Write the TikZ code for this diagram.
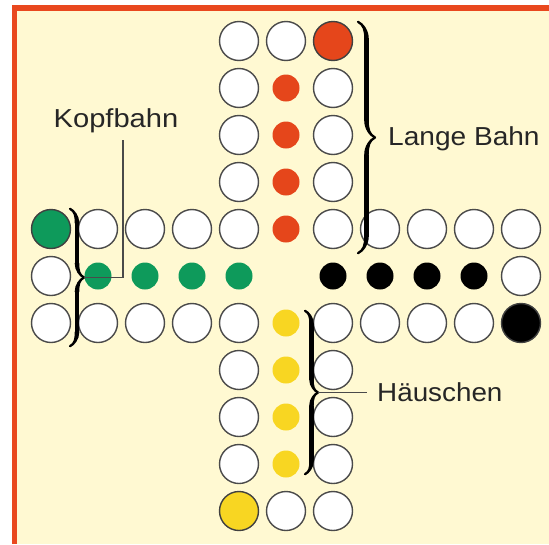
\documentclass[tikz,border=0pt]{standalone}
\usepackage{fontspec}
\setmainfont{Liberation Sans}
\usetikzlibrary{decorations.pathreplacing, calligraphy}

\definecolor{rahmen}{HTML}{E9481E}
\definecolor{papier}{HTML}{FFF9D2}
\definecolor{rot}{HTML}{E5461B}
\definecolor{gruen}{HTML}{0E9A5B}
\definecolor{gelb}{HTML}{F8D622}
\definecolor{rand}{HTML}{4A4A4A}

\tikzset{
  feld/.style={circle, draw=rand, line width=1.4pt, fill=white, minimum size=39pt, inner sep=0pt},
  start/.style={feld, draw=black!75, fill=#1},
  haus/.style={circle, fill=#1, minimum size=27pt, inner sep=0pt},
  klammer/.style={decorate, decoration={calligraphic brace, amplitude=#1}, line width=4.6pt},
  zeiger/.style={draw=rand, line width=1.1pt},
  beschr/.style={text=black!85, inner sep=0pt, font=\fontsize{26}{30}\selectfont},
}

\begin{document}
\begin{tikzpicture}[x=1pt, y=-1pt]
    \useasboundingbox (0,0) rectangle (549,544);
    % Papier mit Rahmen oben und links
    \fill[white] (0,0) rectangle (549,544);
    \fill[papier] (12,5) rectangle (549,544);
    \draw[rahmen, line width=5.5pt] (14.5,544) -- (14.5,7.8) -- (549,7.8);

    \begin{scope}[shift={(286,276)}, x=47pt, y=-47pt]
        % senkrechter Arm
        \foreach \k in {-5,...,-1,1,2,3,4} \node[feld] (l\k) at (-1,\k) {};
        \foreach \k in {-4,...,-1,1,2,...,5} \node[feld] (r\k) at (1,\k) {};
        % waagrechter Arm
        \foreach \k in {-4,-3,-2,2,3,4,5} \node[feld] (o\k) at (\k,-1) {};
        \foreach \k in {-5,-4,-3,-2,2,3,4} \node[feld] (u\k) at (\k,1) {};
        % Endfelder der Mittellinien
        \node[feld] (mo) at (0,-5) {};
        \node[feld] (mu) at (0,5) {};
        \node[feld] (ml) at (-5,0) {};
        \node[feld] (mr) at (5,0) {};
        % Startfelder
        \node[start=rot] (srot) at (1,-5) {};
        \node[start=gruen] (sgruen) at (-5,-1) {};
        \node[start=black] (sschwarz) at (5,1) {};
        \node[start=gelb] (sgelb) at (-1,5) {};
        % Haeuschen
        \foreach \k in {1,...,4} {
            \node[haus=rot] (hrot\k) at (0,-\k) {};
            \node[haus=gelb] (hgelb\k) at (0,\k) {};
            \node[haus=gruen] (hgruen\k) at (-\k,0) {};
            \node[haus=black] (hschwarz\k) at (\k,0) {};
        }
    \end{scope}

    % Lange Bahn
    \draw[klammer=17pt] ([xshift=25pt, yshift=-1pt]srot.north) -- ([xshift=25pt, yshift=-4pt]r-1.south);
    \node[beschr, anchor=base west] (langebahn) at (388,145) {\scalebox{1.08}[1]{Lange Bahn}};

    % Kopfbahn
    \draw[klammer=14pt] ([xshift=-28pt]o-4.north) -- ([xshift=-28pt, yshift=-3pt]u-4.south)
        coordinate[midway, xshift=14pt] (kspitze);
    \node[beschr, anchor=base] (kopfbahn) at (116,127) {\scalebox{1.12}[1]{Kopfbahn}};
    \coordinate (kende) at ([yshift=-7pt]kopfbahn.south);
    \draw[zeiger] (kspitze) -- ++(39,0) coordinate (kknick) -- (kknick |- kende);

    % Haeuschen
    \draw[klammer=13pt] ([xshift=-28pt, yshift=-8pt]r1.north) -- ([xshift=-28pt, yshift=10pt]r4.south)
        coordinate[midway, xshift=13pt] (hspitze);
    \node[beschr, anchor=base west] (haeuschen) at (377,401) {\scalebox{1.07}[1]{Häuschen}};
    \coordinate (hende) at ([xshift=-10pt]haeuschen.west);
    \draw[zeiger] (hspitze) -- (hende |- hspitze);
\end{tikzpicture}
\end{document}
